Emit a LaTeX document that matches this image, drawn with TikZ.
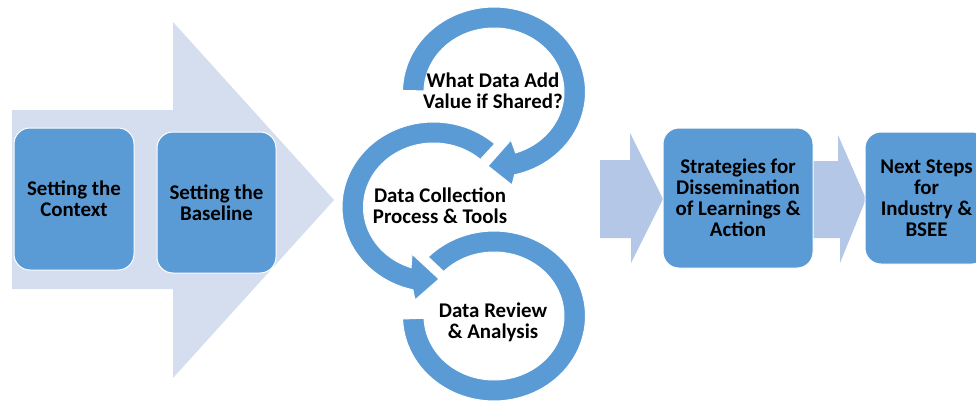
\documentclass[tikz,border=0pt]{standalone}
\usepackage{fontspec}
\setmainfont{Carlito}
\definecolor{bigarrow}{RGB}{212,222,238}
\definecolor{smallarrow}{RGB}{180,199,231}
\definecolor{ofblue}{RGB}{91,155,213}
\tikzset{
  box/.style={fill=ofblue, draw=white, line width=1pt, rounded corners=16pt, align=center, inner sep=0pt,
    font=\fontsize{20.9}{21}\selectfont\bfseries, text=black},
  ringtext/.style={align=center, inner sep=0pt, font=\fontsize{20.9}{21}\selectfont\bfseries, text=black},
  ring/.style={fill=ofblue, draw=white, line width=1pt, line join=miter}
}
\begin{document}
\begin{tikzpicture}[x=1pt, y=-1pt]
\useasboundingbox (0,0) rectangle (976,402);
\clip (0,0) rectangle (976,402);
% big light arrow
\fill[bigarrow] (12,110) -- (173,110) -- (173,22) -- (334,200) -- (173,378) -- (173,289) -- (12,289) -- cycle;
% small arrows
\fill[smallarrow] (600,160) -- (630,160) -- (630,133) -- (663,199) -- (631,263) -- (631,238) -- (600,238) -- cycle;
\fill[smallarrow] (812,161) -- (838,161) -- (838,135) -- (866,199) -- (840,263) -- (840,238) -- (812,238) -- cycle;
% boxes
\node[box, minimum width=120pt, minimum height=142pt] (b1) at (74,199) {Setting the\\Context};
\node[box, minimum width=119pt, minimum height=141pt] (b2) at (216.5,202.5) {Setting the\\Baseline};
\node[box, minimum width=150pt, minimum height=140pt] (b3) at (738,198) {Strategies for\\Dissemination\\of Learnings \&\\Action};
\node[box, minimum width=123pt, minimum height=132pt] (b4) at (926.5,198) {Next Steps\\for\\Industry \&\\BSEE};
% ring C (block arc)
\filldraw[ring] plot[domain=178:-136, samples=90] ({494+91.5*cos(\x)},{316+85*sin(\x)})
  -- plot[domain=-136:178, samples=90] ({494+70*cos(\x)},{316+64*sin(\x)}) -- cycle;
% ring B
\filldraw[ring] plot[domain=-48:-257, samples=80] ({433.5+91.5*cos(\x)},{207+85*sin(\x)})
  -- (415,300) -- (439,279) -- (412,254)
  -- plot[domain=-251.3:-48, samples=80] ({433.5+70*cos(\x)},{207+64*sin(\x)}) -- cycle;
% ring A
\filldraw[ring] plot[domain=181:437, samples=80] ({494+91.5*cos(\x)},{92+85*sin(\x)})
  -- (512,185) -- (488,166) -- (511,140)
  -- plot[domain=432:181, samples=80] ({494+70*cos(\x)},{92+64*sin(\x)}) -- cycle;
% ring texts
\node[ringtext] (tA) at (493,91) {What Data Add\\Value if Shared?};
\node[ringtext] (tB) at (440,205.5) {Data Collection\\Process \& Tools};
\node[ringtext] (tC) at (493,322.5) {Data Review\\\& Analysis};
\end{tikzpicture}
\end{document}
